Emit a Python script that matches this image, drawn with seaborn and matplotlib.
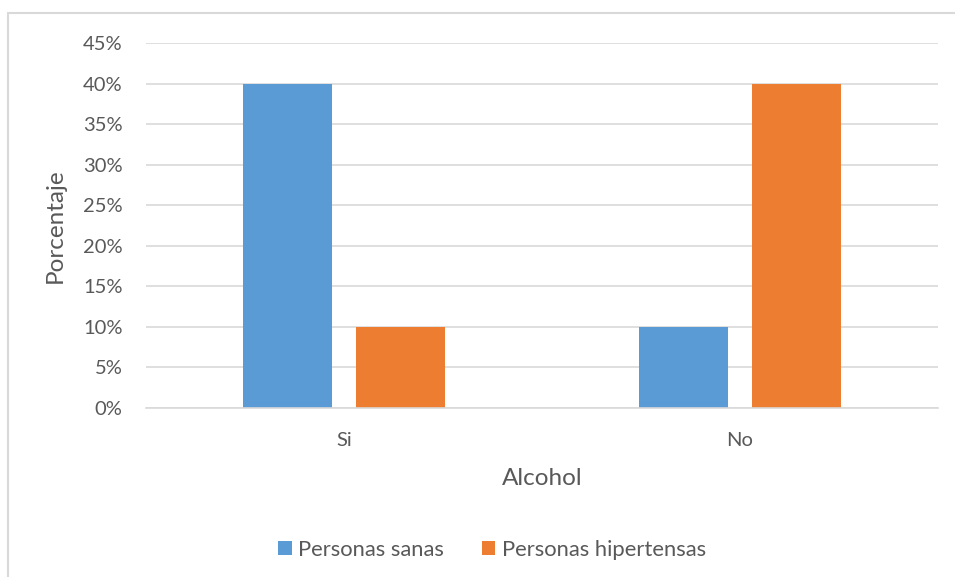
import matplotlib
matplotlib.use("Agg")
import matplotlib.pyplot as plt
from matplotlib.patches import Rectangle
from matplotlib.ticker import PercentFormatter
import seaborn as sns
import pandas as pd

categories = ["Si", "No"]
series = ["Personas sanas", "Personas hipertensas"]
sanas = [40, 10]
hipertensas = [10, 40]
yticks = [0, 5, 10, 15, 20, 25, 30, 35, 40, 45]

colors = ["#5B9BD5", "#ED7D31"]
text_color = "#595959"
grid_color = "#D9D9D9"

df = pd.DataFrame({
    "Alcohol": categories * 2,
    "Grupo": [series[0]] * len(categories) + [series[1]] * len(categories),
    "Porcentaje": sanas + hipertensas,
})

sns.set_theme(style="white")
plt.rcParams["font.family"] = ["Lato", "DejaVu Sans"]

W, H = 955, 577
fig = plt.figure(figsize=(W / 100, H / 100), dpi=100)
ax = fig.add_axes([146 / W, 1 - 408 / H, (938 - 146) / W, (408 - 43) / H])

sns.barplot(data=df, x="Alcohol", y="Porcentaje", hue="Grupo",
            palette=colors, width=0.571, gap=0.213, saturation=1,
            order=categories, hue_order=series, ax=ax, legend=True,
            errorbar=None, linewidth=0)

ax.set_xlim(-0.5, 1.5)
ax.set_ylim(0, 45)
ax.set_yticks(yticks)
ax.yaxis.set_major_formatter(PercentFormatter(decimals=0))
ax.grid(axis="y", color=grid_color, linewidth=1.2)
ax.set_axisbelow(True)
for s in ["top", "right", "left"]:
    ax.spines[s].set_visible(False)
ax.spines["bottom"].set_color(grid_color)
ax.spines["bottom"].set_linewidth(1.2)
ax.tick_params(axis="both", length=0, labelsize=14.5, colors=text_color)
ax.tick_params(axis="y", pad=17)
ax.tick_params(axis="x", pad=17)

ax.set_xlabel("Alcohol", fontsize=17.5, color=text_color, labelpad=14)
ax.set_ylabel("Porcentaje", fontsize=17.5, color=text_color, labelpad=12)

# legend sits centred under the whole chart frame
leg = fig.legend(*ax.get_legend_handles_labels(), loc="center",
                 bbox_to_anchor=(492 / W, 1 - 550 / H), ncol=2,
                 frameon=False, fontsize=15.8, handlelength=0.62,
                 handleheight=0.62, handletextpad=0.3, columnspacing=1.7)
ax.get_legend().remove()
for t in leg.get_texts():
    t.set_color(text_color)

# chart frame, opening past the right and bottom edges
fig.patches.append(Rectangle((8 / W, -0.05), 1.1, 1 - 13 / H + 0.05,
                             transform=fig.transFigure, fill=False,
                             edgecolor=grid_color, linewidth=1.5))

fig.savefig("out.png", dpi=100)
